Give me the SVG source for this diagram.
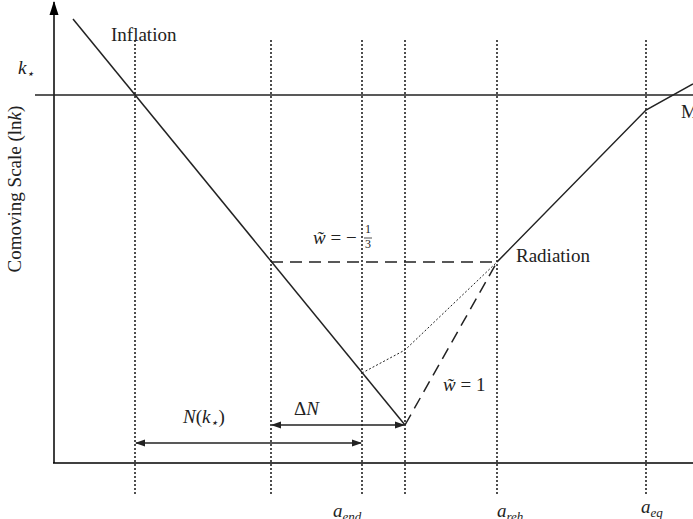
<svg xmlns="http://www.w3.org/2000/svg" width="693" height="519" viewBox="0 0 693 519">
<defs>
<style>
.ax{stroke:#000;stroke-width:1.5;fill:none}
.ln{stroke:#222;stroke-width:1.5;fill:none}
.dot{stroke:#222;stroke-width:1.6;stroke-dasharray:2,2;fill:none}
.fdot{stroke:#222;stroke-width:1;stroke-dasharray:2,2;fill:none}
.dash{stroke:#222;stroke-width:1.5;stroke-dasharray:12,7;fill:none}
.t{font-family:'Liberation Serif','DejaVu Serif',serif;font-size:19px;fill:#222}
.m{font-family:'Liberation Serif','DejaVu Serif',serif;font-style:italic;font-size:19px;fill:#222}
.s{font-family:'Liberation Serif','DejaVu Serif',serif;font-style:italic;font-size:13px;fill:#222}
.n{font-family:'Liberation Serif','DejaVu Serif',serif;font-size:12px;fill:#222}
</style>
<marker id="ah" viewBox="0 0 10 10" refX="9" refY="5" markerWidth="10" markerHeight="10" markerUnits="userSpaceOnUse" orient="auto-start-reverse">
<path d="M0,1.5 L10,5 L0,8.5 Z" fill="#222"/>
</marker>
<marker id="ya" viewBox="0 0 10 14" refX="5" refY="1" markerWidth="10" markerHeight="14" markerUnits="userSpaceOnUse" orient="0">
<path d="M5,0 L9.5,14 L0.5,14 Z" fill="#000"/>
</marker>
</defs>
<g id="axes">
<line class="ax" x1="54" y1="463" x2="54" y2="2" marker-end="url(#ya)"/>
<line class="ax" x1="53" y1="463" x2="693" y2="463"/>
<line class="ln" x1="35" y1="95" x2="693" y2="95"/>
<text class="t" transform="translate(21,189) rotate(-90)" text-anchor="middle" font-size="20">Comoving Scale (ln<tspan font-style="italic">k</tspan>)</text>
</g>
<g id="verticals">
<line class="dot" x1="135" y1="40" x2="135" y2="495"/>
<line class="dot" x1="271" y1="40" x2="271" y2="495"/>
<line class="dot" x1="362" y1="40" x2="362" y2="495"/>
<line class="dot" x1="405" y1="40" x2="405" y2="495"/>
<line class="dot" x1="497" y1="40" x2="497" y2="495"/>
<line class="dot" x1="646" y1="40" x2="646" y2="495"/>
</g>
<g id="connectors">
<line class="ln" x1="73" y1="19" x2="405" y2="425"/>
<polyline class="ln" points="497,262 646,110 693,84"/>
<line class="dash" x1="271" y1="262" x2="497" y2="262"/>
<polyline class="fdot" points="362,373 405,350 497,262"/>
<line class="dash" x1="405" y1="425" x2="497" y2="262"/>
<line class="ln" x1="272" y1="425" x2="404" y2="425" marker-start="url(#ah)" marker-end="url(#ah)"/>
<line class="ln" x1="136" y1="443" x2="361" y2="443" marker-start="url(#ah)" marker-end="url(#ah)"/>
</g>
<g id="labels">
<text class="t" x="111" y="41">Inflation</text>
<text class="m" x="18" y="74">k<tspan class="s" dy="4" font-style="normal">⋆</tspan></text>
<text class="t" x="681" y="118">M</text>
<text class="m" x="313" y="244">w̃<tspan font-style="normal"> = −</tspan></text>
<text class="n" x="365" y="233">1</text>
<line x1="364" y1="238" x2="372" y2="238" stroke="#222" stroke-width="0.8"/>
<text class="n" x="365" y="248">3</text>
<text class="t" x="516" y="262">Radiation</text>
<text class="m" x="443" y="391">w̃<tspan font-style="normal"> = 1</tspan></text>
<text class="m" x="183" y="423">N<tspan font-style="normal">(</tspan>k<tspan class="s" dy="4" font-style="normal">⋆</tspan><tspan dy="-4" font-style="normal">)</tspan></text>
<text class="m" x="294" y="415"><tspan font-style="normal">Δ</tspan>N</text>
<text class="m" x="333" y="517">a<tspan class="s" dy="4">end</tspan></text>
<text class="m" x="497" y="517">a<tspan class="s" dy="4">reh</tspan></text>
<text class="m" x="641" y="513">a<tspan class="s" dy="4">eq</tspan></text>
</g>
</svg>
